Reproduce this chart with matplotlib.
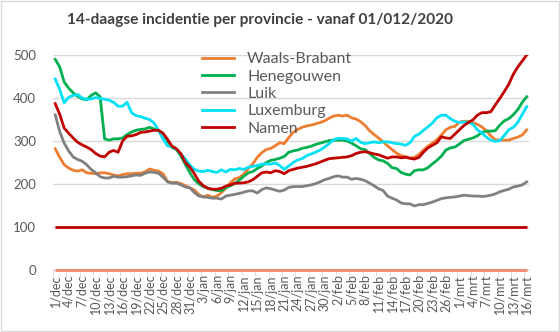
import numpy as np
import pandas as pd
from matplotlib import pyplot as plt
from matplotlib.patches import Rectangle

# dagen: 1 december 2020 t/m 16 maart 2021
dates = pd.date_range('2020-12-01', '2021-03-16', freq='D')
month_nl = {12: 'dec', 1: 'jan', 2: 'feb', 3: 'mrt'}

waals_brabant = [282, 262, 245, 237, 232, 230, 233, 226, 225, 224, 226, 226, 224, 221, 219, 222,
                 224, 224, 225, 225, 228, 235, 232, 230, 224, 206, 203, 204, 201, 196, 191, 186,
                 175, 170, 174, 169, 172, 180, 190, 203, 212, 215, 223, 236, 247, 262, 273, 280,
                 283, 289, 296, 294, 308, 320, 327, 332, 335, 337, 340, 343, 347, 353, 358, 360,
                 358, 360, 354, 351, 345, 336, 324, 315, 307, 298, 289, 280, 272, 266, 264, 260,
                 262, 269, 279, 288, 295, 303, 314, 326, 332, 334, 344, 346, 346, 343, 339, 333,
                 324, 312, 303, 302, 302, 302, 306, 309, 314, 326]
henegouwen = [490, 472, 437, 423, 412, 404, 398, 396, 406, 412, 403, 305, 302, 305, 305, 307,
              315, 321, 325, 327, 328, 332, 328, 324, 318, 300, 285, 280, 265, 245, 226, 210,
              200, 194, 190, 187, 185, 184, 192, 196, 201, 209, 218, 226, 229, 236, 242, 250,
              255, 257, 260, 264, 274, 277, 279, 283, 285, 288, 292, 295, 298, 301, 302, 302,
              302, 300, 295, 289, 282, 280, 271, 262, 256, 254, 248, 238, 236, 227, 223, 221,
              231, 233, 233, 238, 247, 255, 265, 279, 284, 286, 293, 301, 304, 307, 312, 320,
              323, 323, 324, 337, 347, 352, 361, 373, 390, 403]
luik = [361, 322, 295, 277, 263, 257, 253, 245, 234, 226, 217, 214, 214, 218, 216, 216,
        217, 219, 221, 220, 225, 228, 227, 225, 216, 205, 202, 202, 198, 193, 191, 180,
        172, 170, 169, 167, 167, 165, 172, 174, 176, 178, 181, 184, 184, 179, 187, 191,
        189, 186, 183, 186, 192, 194, 194, 194, 196, 198, 201, 205, 210, 213, 217, 219,
        216, 216, 211, 213, 211, 208, 202, 196, 189, 185, 172, 167, 163, 156, 154, 154,
        149, 152, 152, 155, 158, 162, 166, 168, 169, 170, 172, 174, 173, 172, 172, 171,
        172, 174, 177, 182, 185, 188, 193, 195, 198, 205]
luxemburg = [444, 420, 389, 402, 406, 408, 400, 397, 398, 401, 399, 397, 395, 390, 381, 381,
             390, 366, 359, 357, 353, 350, 342, 325, 305, 289, 287, 281, 269, 258, 244, 234,
             230, 229, 232, 229, 227, 233, 228, 234, 233, 236, 234, 239, 241, 243, 246, 247,
             246, 249, 243, 234, 242, 250, 256, 259, 266, 270, 274, 279, 286, 294, 303, 306,
             306, 305, 300, 306, 297, 294, 296, 298, 296, 298, 298, 296, 294, 293, 290, 296,
             311, 316, 325, 333, 342, 354, 360, 360, 352, 346, 343, 344, 344, 339, 326, 319,
             309, 302, 299, 301, 313, 326, 332, 343, 362, 380]
namen = [387, 362, 330, 318, 307, 297, 291, 286, 280, 271, 265, 263, 274, 278, 274, 300,
         311, 312, 315, 320, 321, 323, 325, 325, 318, 304, 288, 282, 270, 250, 239, 224,
         206, 196, 190, 188, 188, 190, 195, 198, 202, 202, 203, 205, 210, 218, 226, 228,
         226, 231, 229, 224, 231, 234, 237, 239, 241, 244, 247, 251, 255, 259, 260, 261,
         262, 263, 266, 271, 274, 275, 273, 270, 268, 264, 260, 263, 263, 261, 262, 260,
         258, 262, 274, 284, 290, 296, 310, 307, 306, 316, 326, 336, 343, 349, 360, 366,
         366, 368, 384, 399, 415, 432, 455, 472, 486, 500]

drempel_rood = 100
drempel_zalm = 0

series = [('Waals-Brabant', waals_brabant, '#ED7D31'),
          ('Henegouwen', henegouwen, '#00B050'),
          ('Luik', luik, '#808080'),
          ('Luxemburg', luxemburg, '#00E1F5'),
          ('Namen', namen, '#C00000')]

plt.rcParams['font.family'] = ['Lato', 'DejaVu Sans']

x = np.arange(len(dates))
fig = plt.figure(figsize=(5.6, 3.32), dpi=100)
ax = fig.add_axes([0.0946, 0.1867, 0.85, 0.6476])

# rand rond de grafiek
fig.patches.append(Rectangle((0.002, 0.003), 0.996, 0.994, transform=fig.transFigure,
                             fill=False, edgecolor='#D9D9D9', linewidth=1))

for name, vals, col in series:
    ax.plot(x, vals, color=col, linewidth=2, label=name, zorder=3)

ax.hlines(drempel_rood, x[0], x[-1], color='#C00000', linewidth=2, zorder=2)
ax.hlines(drempel_zalm, x[0], x[-1], color='#F0876A', linewidth=2, zorder=4, clip_on=False)

ax.set_xlim(-0.5, len(dates) - 0.5)
ax.set_ylim(0, 500)
ax.set_yticks(range(0, 501, 100))
ax.grid(axis='y', color='#D9D9D9', linewidth=1, zorder=0)
ax.set_axisbelow(True)

labels = [f'{d.day}/{month_nl[d.month]}' for d in dates[::3]]
ax.set_xticks(x[::3])
ax.set_xticklabels(labels, rotation=90, fontsize=9, color='#595959')
ax.set_xticks(np.arange(-0.5, len(dates), 3), minor=True)
ax.tick_params(axis='x', which='major', length=0, pad=3)
ax.tick_params(axis='x', which='minor', length=4, color='#D9D9D9')
ax.tick_params(axis='y', length=0, labelsize=9.5, labelcolor='#595959', pad=12)

for s in ['top', 'right', 'left']:
    ax.spines[s].set_visible(False)
ax.spines['bottom'].set_color('#D9D9D9')

fig.text(0.465, 0.94, '14-daagse incidentie per provincie - vanaf 01/012/2020',
         ha='center', va='center', fontsize=11.1, fontweight='bold', color='#404040')

leg = fig.legend(loc='upper left', bbox_to_anchor=(0.36, 0.843), frameon=False,
                 fontsize=11.5, handlelength=2.0, handletextpad=0.85,
                 labelspacing=0.2, borderpad=0, borderaxespad=0)
for t in leg.get_texts():
    t.set_color('#595959')

plt.savefig('out.png', dpi=100)
